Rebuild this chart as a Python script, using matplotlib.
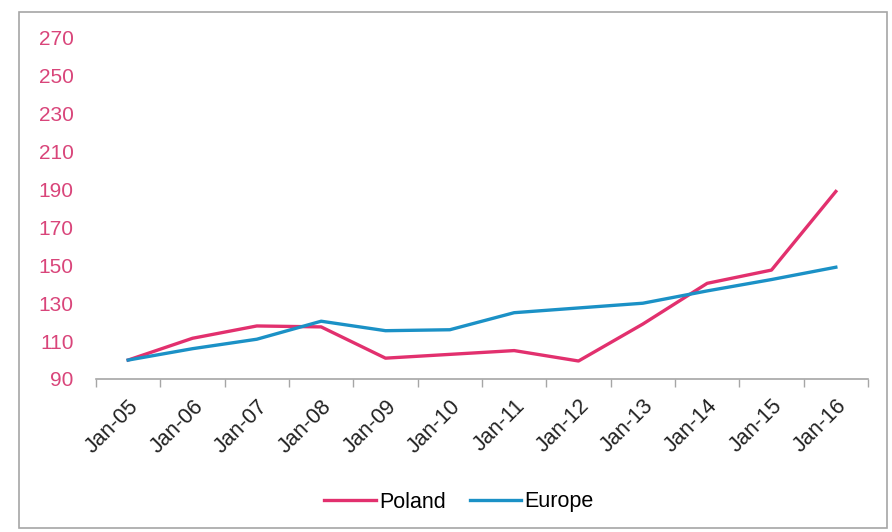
import matplotlib
matplotlib.use('Agg')
import matplotlib.pyplot as plt
import numpy as np
from matplotlib.patches import Rectangle

plt.rcParams['font.family'] = ['Liberation Sans', 'DejaVu Sans']

## DATA ######################################################################
months = ['Jan-05', 'Jan-06', 'Jan-07', 'Jan-08', 'Jan-09', 'Jan-10',
          'Jan-11', 'Jan-12', 'Jan-13', 'Jan-14', 'Jan-15', 'Jan-16']
poland = [100, 111.5, 118, 117.5, 101, 103, 105, 99.5, 119, 140.5, 147.5, 189]
europe = [100, 106, 111, 120.5, 115.5, 116, 125, 127.5, 130, 136.5, 142.5, 149]
y_ticks = [90, 110, 130, 150, 170, 190, 210, 230, 250, 270]

pink = '#E2306E'
blue = '#1B91C6'
label_pink = '#D9457A'
grey = '#A6A6A6'

## PLOT ######################################################################
fig = plt.figure(figsize=(8.92, 5.32), dpi=100)
ax = fig.add_axes([96/892, 1 - 379/532, (868-96)/892, (379-38)/532])

x = np.arange(len(months))
ax.plot(x, poland, color=pink, lw=2.4, label='Poland')
ax.plot(x, europe, color=blue, lw=2.4, label='Europe')

ax.set_xlim(-0.5, len(months) - 0.5)
ax.set_ylim(90, 270)
ax.set_yticks(y_ticks)
ax.tick_params(axis='y', length=0, pad=16, labelcolor=label_pink, labelsize=15)

ax.set_xticks(x)
ax.set_xticklabels(months, rotation=45, ha='right', va='top',
                   rotation_mode='anchor', fontsize=15.5, color='#222222')
ax.tick_params(axis='x', which='major', length=0, pad=12)
ax.set_xticks(np.arange(-0.5, len(months)), minor=True)
ax.tick_params(axis='x', which='minor', length=6, width=1, color=grey,
               direction='out')

for s in ['top', 'right', 'left']:
    ax.spines[s].set_visible(False)
ax.spines['bottom'].set_color(grey)
ax.spines['bottom'].set_linewidth(1.2)

leg = fig.legend(loc='center', bbox_to_anchor=(459/892, 1 - 502/532), ncol=2,
                 frameon=False, fontsize=15.5, handlelength=2.4,
                 handletextpad=0.15, columnspacing=1.1)

# outer border
fig.patches.append(Rectangle((19/892, 4/532), (887-19)/892, (520-4)/532,
                             transform=fig.transFigure, fill=False,
                             edgecolor=grey, lw=1.2))

fig.savefig('out.png', dpi=100)
